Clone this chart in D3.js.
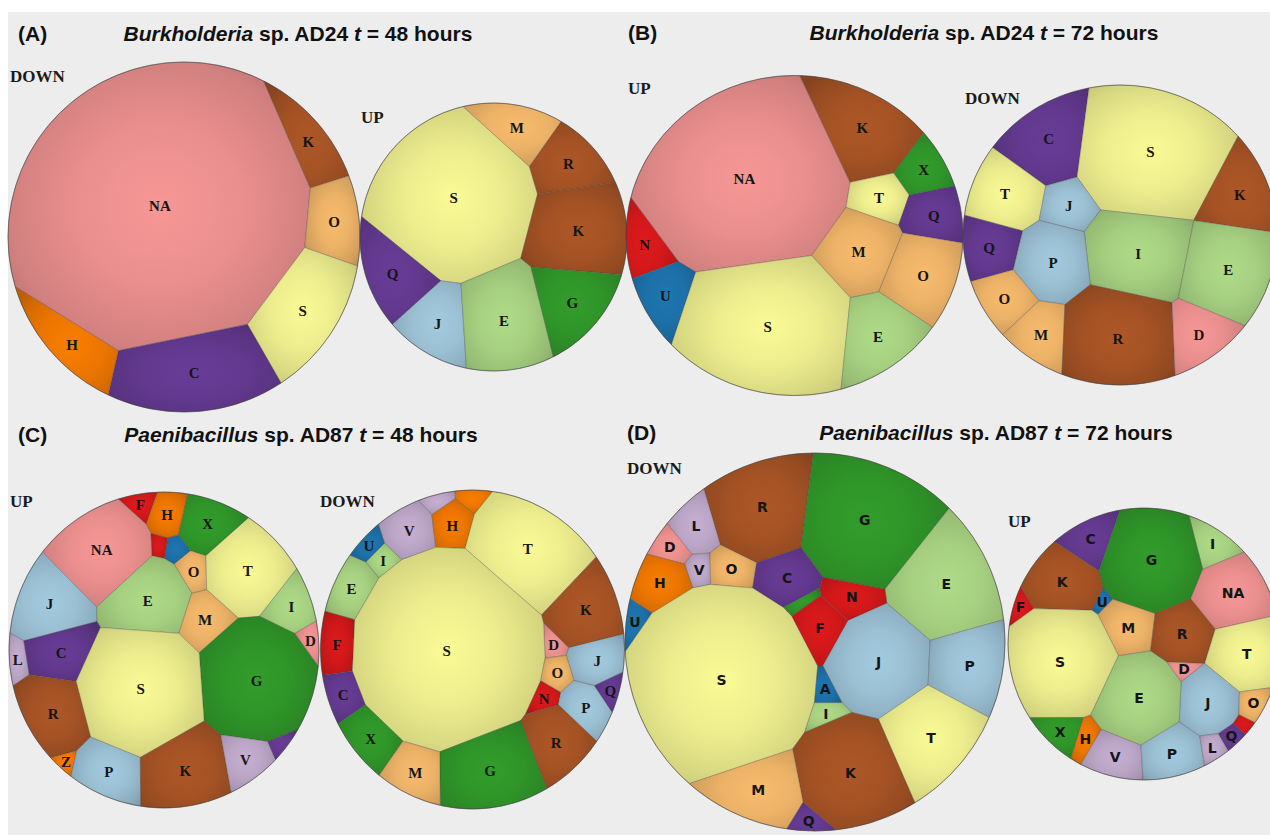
<!DOCTYPE html>
<html><head><meta charset="utf-8">
<script src="https://cdn.jsdelivr.net/npm/d3@7/dist/d3.min.js"></script>
<style>
html,body{margin:0;padding:0;background:#fff;}
svg{display:block;}
</style></head>
<body>
<svg id="chart" width="1270" height="835"></svg>
<script>
// ================= DATA =================
const panelTags   = ["(A)","(B)","(C)","(D)"];
const genusNames  = ["Burkholderia","Burkholderia","Paenibacillus","Paenibacillus"];
const strainNames = ["sp. AD24","sp. AD24","sp. AD87","sp. AD87"];
const timePoints  = ["48","72","48","72"];

// COG category shares (% of differentially expressed genes) per map
const catA1 = ["NA","K","O","S","C","H"];
const valA1 = [69,3.5,3.9,8.4,11,4.2];
const catA2 = ["S","M","R","K","Q","J","E","G"];
const valA2 = [37,5.5,6.5,14,7.5,7,14,8.5];
const catB1 = ["NA","K","X","T","Q","N","M","O","U","S","E"];
const valB1 = [36,8.5,2.5,2.6,3.2,2.6,6,6,3.4,23,6.2];
const catB2 = ["C","S","K","T","J","I","Q","P","E","O","M","R","D"];
const valB2 = [7.5,22,6,5.8,3,10.5,3.8,6.5,10,3.3,3.8,13,4.3];
const catC1 = ["F","H","X","NA","U","N","O","T","J","E","I","M","D","L","C","G","S","R","Z","P","K","V","Q"];
const valC1 = [0.8,1.8,3.3,8.8,0.6,0.4,1.2,7.5,5.8,6.4,2.5,2.7,0.7,1.1,3.8,14.8,16.5,5.6,0.45,4.2,7.5,2.5,0.45];
const catC2 = ["L","Z","V","H","T","U","I","E","K","F","D","S","J","O","C","Q","N","P","X","R","G","M"];
const valC2 = [0.6,0.6,2.9,2,11.8,0.8,0.8,2.6,5.6,2.4,0.6,38,2.8,1.1,1.8,0.7,0.8,2.4,3,4.6,8.7,3.3];
const catD1 = ["R","G","L","D","V","O","H","C","E","N","X","U","F","J","P","S","A","I","T","K","M","Q"];
const valD1 = [7.3,11.7,1.7,0.8,0.75,1.3,2,2.3,7.9,1.5,0.3,0.6,1.8,7.2,4.5,24,0.5,0.6,6.1,8.4,4.4,0.6];
const catD2 = ["C","I","G","K","NA","F","U","M","R","T","S","D","J","E","O","Q","N","X","H","V","P","L"];
const valD2 = [3.1,2.3,13.7,6.3,7,0.7,0.4,3.6,5,7,15.9,0.6,5.2,9.8,1.2,0.5,0.5,2,1.2,3.4,4.3,1];

// categories whose label is not printed (cells too small)
const hideA1 = [], hideA2 = [], hideB1 = [], hideB2 = [];
const hideC1 = ["U","N","Q"], hideC2 = ["L","Z"], hideD1 = ["X"], hideD2 = ["N"];

// ================= LAYOUT SEEDS (normalised sites for the power-diagram iteration) =================
const seedA1 = [[-0.14,-0.17],[0.71,-0.51],[0.84,-0.04],[0.63,0.47],[0.06,0.73],[-0.52,0.69]];
const seedA2 = [[-0.31,-0.29],[0.18,-0.74],[0.58,-0.56],[0.64,-0.01],[-0.72,0.32],[-0.42,0.67],[0.11,0.60],[0.61,0.58]];
const seedB1 = [[-0.32,-0.37],[0.44,-0.65],[0.77,-0.44],[0.50,-0.20],[0.84,-0.11],[-0.87,0.10],[0.35,0.14],[0.76,0.29],[-0.73,0.45],[-0.15,0.58],[0.50,0.65]];
const seedB2 = [[-0.45,-0.65],[0.24,-0.57],[0.76,-0.32],[-0.69,-0.28],[-0.29,-0.21],[0.14,0.11],[-0.82,0.13],[-0.41,0.20],[0.69,0.29],[-0.71,0.47],[-0.48,0.70],[0.03,0.65],[0.52,0.71]];
const seedC1 = [[-0.11,-0.91],[0.07,-0.86],[0.32,-0.79],[-0.39,-0.65],[0.06,-0.65],[-0.01,-0.58],[0.17,-0.49],[0.55,-0.52],[-0.72,-0.35],[-0.12,-0.32],[0.83,-0.29],[0.27,-0.21],[0.94,-0.01],[-0.92,0.01],[-0.61,-0.02],[0.62,0.18],[-0.10,0.27],[-0.67,0.42],[-0.60,0.73],[-0.34,0.77],[0.14,0.74],[0.52,0.72],[0.76,0.59]];
const seedC2 = [[-0.21,-0.94],[0.0,-0.94],[-0.43,-0.73],[-0.11,-0.77],[0.38,-0.63],[-0.68,-0.64],[-0.57,-0.49],[-0.77,-0.34],[0.76,-0.35],[-0.86,-0.02],[0.52,-0.04],[-0.12,0.0],[0.83,0.05],[0.56,0.17],[-0.84,0.29],[0.90,0.25],[0.46,0.33],[0.76,0.41],[-0.63,0.54],[0.56,0.64],[0.08,0.74],[-0.37,0.75]];
const seedD1 = [[-0.22,-0.70],[0.34,-0.59],[-0.58,-0.65],[-0.75,-0.52],[-0.56,-0.36],[-0.35,-0.36],[-0.78,-0.29],[-0.08,-0.28],[0.72,-0.31],[0.17,-0.16],[-0.03,-0.11],[-0.94,-0.05],[0.05,0.07],[0.38,0.11],[0.80,0.17],[-0.47,0.28],[0.08,0.30],[0.02,0.44],[0.64,0.53],[0.22,0.69],[-0.27,0.79],[-0.01,0.93]];
const seedD2 = [[-0.38,-0.80],[0.50,-0.75],[0.09,-0.62],[-0.57,-0.53],[0.66,-0.43],[-0.89,-0.31],[-0.29,-0.30],[-0.07,-0.09],[0.30,-0.09],[0.75,0.08],[-0.62,0.15],[0.15,0.14],[0.43,0.38],[-0.04,0.42],[0.78,0.47],[0.61,0.56],[0.71,0.62],[-0.63,0.67],[-0.43,0.73],[-0.15,0.83],[0.23,0.78],[0.51,0.74]];

// ================= STYLE =================
const cogDomain = ["J","P","U","A","E","I","G","X","NA","D","N","F","M","O","H","Z","L","V","C","Q","S","T","K","R"];
const cogRange  = ["#a6cee3","#a6cee3","#1f78b4","#1f78b4","#b2df8a","#b2df8a","#33a02c","#33a02c","#fb9a99","#fb9a99","#e31a1c","#e31a1c","#fdbf6f","#fdbf6f","#ff7f00","#ff7f00","#cab2d6","#cab2d6","#6a3d9a","#6a3d9a","#ffff99","#ffff99","#b15928","#b15928"];
const color = d3.scaleOrdinal().domain(cogDomain).range(cogRange);

const SERIF = "'Liberation Serif','Times New Roman',serif";
const SANS  = "'Liberation Sans',Arial,sans-serif";
const VSANS = "'DejaVu Sans',Verdana,sans-serif";

const maps = [
  {dir:"DOWN", cx:184,   cy:237,   rx:176,   ry:175,   cats:catA1, vals:valA1, seeds:seedA1, hide:hideA1, font:SERIF, lx:10,   ly:82},
  {dir:"UP",   cx:493.5, cy:237,   rx:133.5, ry:134,   cats:catA2, vals:valA2, seeds:seedA2, hide:hideA2, font:SERIF, lx:361,  ly:123},
  {dir:"UP",   cx:794.5, cy:235.5, rx:168.5, ry:160,   cats:catB1, vals:valB1, seeds:seedB1, hide:hideB1, font:SERIF, lx:628,  ly:94},
  {dir:"DOWN", cx:1120,  cy:235,   rx:157,   ry:150,   cats:catB2, vals:valB2, seeds:seedB2, hide:hideB2, font:SERIF, lx:965,  ly:104},
  {dir:"UP",   cx:164,   cy:650,   rx:155,   ry:158,   cats:catC1, vals:valC1, seeds:seedC1, hide:hideC1, font:SERIF, lx:10,   ly:507},
  {dir:"DOWN", cx:472.5, cy:649.5, rx:152,   ry:159.5, cats:catC2, vals:valC2, seeds:seedC2, hide:hideC2, font:SERIF, lx:320,  ly:507},
  {dir:"DOWN", cx:815,   cy:642,   rx:190,   ry:189,   cats:catD1, vals:valD1, seeds:seedD1, hide:hideD1, font:VSANS, lx:627,  ly:474},
  {dir:"UP",   cx:1144,  cy:644,   rx:136,   ry:136,   cats:catD2, vals:valD2, seeds:seedD2, hide:hideD2, font:VSANS, lx:1008, ly:527}
];
const titles = [
  {x:18,  y:41, cx:298, cy:41},
  {x:628, y:40, cx:984, cy:40},
  {x:18,  y:442, cx:301, cy:442},
  {x:627, y:440, cx:996, cy:440}
];

// ================= VORONOI TREEMAP (power diagram) =================
function clipHalf(poly, a, b, c) {
  const out = [], n = poly.length;
  for (let k = 0; k < n; k++) {
    const P = poly[k], Q = poly[(k + 1) % n];
    const fp = a * P[0] + b * P[1] - c, fq = a * Q[0] + b * Q[1] - c;
    if (fp <= 0) out.push(P);
    if ((fp < 0 && fq > 0) || (fp > 0 && fq < 0)) {
      const t = fp / (fp - fq);
      out.push([P[0] + t * (Q[0] - P[0]), P[1] + t * (Q[1] - P[1])]);
    }
  }
  return out;
}
function powerCells(S, w, base) {
  const n = S.length, cells = new Array(n);
  for (let i = 0; i < n; i++) {
    let poly = base;
    const xi = S[i][0], yi = S[i][1], si = xi * xi + yi * yi;
    for (let j = 0; j < n && poly.length > 2; j++) {
      if (j === i) continue;
      const xj = S[j][0], yj = S[j][1];
      poly = clipHalf(poly, 2 * (xj - xi), 2 * (yj - yi), (xj * xj + yj * yj) - si - w[j] + w[i]);
    }
    cells[i] = poly;
  }
  return cells;
}
function fixOverweight(S, w) {
  let guard = 0, fixed;
  do {
    fixed = false;
    for (let i = 0; i < S.length && !fixed; i++) {
      for (let j = i + 1; j < S.length; j++) {
        const hi = w[i] > w[j] ? i : j, lo = hi === i ? j : i;
        const dx = S[i][0] - S[j][0], dy = S[i][1] - S[j][1], d2 = dx * dx + dy * dy;
        if (d2 < w[hi] - w[lo]) { w[hi] = Math.max(d2 + w[lo] / 2, 1e-7); fixed = true; break; }
      }
    }
  } while (fixed && ++guard < 500);
}
function voronoiTreemap(vals, seeds) {
  const N = 160;
  const base = d3.range(N).map(k => [Math.cos(2 * Math.PI * k / N), Math.sin(2 * Math.PI * k / N)]);
  const A = Math.abs(d3.polygonArea(base));
  const tot = d3.sum(vals);
  const T = vals.map(v => v / tot * A);
  const S = seeds.map(p => [p[0], p[1]]);
  const w = T.map(t => t / Math.PI);
  fixOverweight(S, w);
  let cells = powerCells(S, w, base), err = 1;
  for (let it = 0; it < 500; it++) {
    const mv = it < 150 ? 0.08 : 0.02;
    for (let i = 0; i < S.length; i++) {
      if (cells[i].length > 2) {
        const c = d3.polygonCentroid(cells[i]);
        S[i][0] += (c[0] - S[i][0]) * mv;
        S[i][1] += (c[1] - S[i][1]) * mv;
      }
    }
    fixOverweight(S, w);
    cells = powerCells(S, w, base);
    err = 0;
    for (let i = 0; i < S.length; i++) {
      const a = cells[i].length > 2 ? Math.abs(d3.polygonArea(cells[i])) : 0;
      err += Math.abs(a - T[i]);
      let r = a > 0 ? T[i] / a : 1.5;
      r = Math.max(0.8, Math.min(1.25, r));
      w[i] = Math.max(w[i] * r, 1e-7);
    }
    fixOverweight(S, w);
    cells = powerCells(S, w, base);
    if (it > 80 && err / (2 * A) < 0.002) break;
  }
  return cells;
}

// ================= DRAW =================
const svg = d3.select("#chart");
const defs = svg.append("defs");
svg.append("rect").attr("x", 0).attr("y", 0).attr("width", 1270).attr("height", 835).attr("fill", "#ffffff");
svg.append("rect").attr("x", 8).attr("y", 12).attr("width", 1262).attr("height", 823).attr("fill", "#ededed");

maps.forEach((m, mi) => {
  const cells = voronoiTreemap(m.vals, m.seeds);
  const xs = d3.scaleLinear().domain([-1, 1]).range([m.cx - m.rx, m.cx + m.rx]);
  const ys = d3.scaleLinear().domain([-1, 1]).range([m.cy - m.ry, m.cy + m.ry]);
  const g = svg.append("g");
  const labels = [];
  cells.forEach((poly, i) => {
    if (poly.length < 3) return;
    const pts = poly.map(p => [xs(p[0]), ys(p[1])]);
    const cen = d3.polygonCentroid(pts);
    const x0 = d3.min(pts, p => p[0]), x1 = d3.max(pts, p => p[0]);
    const y0 = d3.min(pts, p => p[1]), y1 = d3.max(pts, p => p[1]);
    const fx = (cen[0] - x0) / Math.max(1e-6, x1 - x0), fy = (cen[1] - y0) / Math.max(1e-6, y1 - y0);
    const base = d3.color(color(m.cats[i]));
    const id = "grad" + mi + "_" + i;
    const grad = defs.append("radialGradient").attr("id", id)
      .attr("cx", fx).attr("cy", fy).attr("fx", fx).attr("fy", fy)
      .attr("r", 0.6 + Math.max(Math.abs(fx - 0.5), Math.abs(fy - 0.5)));
    [[0, 0.05], [0.45, 0.2], [0.82, 0.5], [1, 0.8]].forEach(s => {
      grad.append("stop").attr("offset", s[0]).attr("stop-color", base.darker(s[1]).formatHex());
    });
    g.append("path")
      .attr("d", "M" + pts.map(p => p[0].toFixed(2) + "," + p[1].toFixed(2)).join("L") + "Z")
      .attr("fill", "url(#" + id + ")")
      .attr("stroke", "rgba(60,60,60,0.35)")
      .attr("stroke-width", 0.8)
      .attr("stroke-linejoin", "round");
    if (m.hide.indexOf(m.cats[i]) < 0) labels.push({t: m.cats[i], x: cen[0], y: cen[1]});
  });
  g.append("ellipse").attr("cx", m.cx).attr("cy", m.cy).attr("rx", m.rx).attr("ry", m.ry)
    .attr("fill", "none").attr("stroke", "rgba(70,70,70,0.55)").attr("stroke-width", 1);
  g.selectAll("text.lab").data(labels).enter().append("text")
    .attr("class", "lab")
    .attr("x", d => d.x).attr("y", d => d.y).attr("dy", "0.36em")
    .attr("text-anchor", "middle")
    .attr("font-family", m.font).attr("font-weight", "bold")
    .attr("font-size", m.font === VSANS ? 14 : 15)
    .attr("fill", "#151515")
    .text(d => d.t);
  svg.append("text").attr("x", m.lx).attr("y", m.ly)
    .attr("font-family", SERIF).attr("font-weight", "bold").attr("font-size", 17)
    .attr("fill", "#1a1a1a").text(m.dir);
});

titles.forEach((t, i) => {
  svg.append("text").attr("x", t.x).attr("y", t.y)
    .attr("font-family", SANS).attr("font-weight", "bold").attr("font-size", 21)
    .attr("fill", "#111").text(panelTags[i]);
  const tt = svg.append("text").attr("x", t.cx).attr("y", t.cy).attr("text-anchor", "middle")
    .attr("font-family", SANS).attr("font-weight", "bold").attr("font-size", 21).attr("fill", "#111");
  tt.append("tspan").attr("font-style", "italic").text(genusNames[i]);
  tt.append("tspan").text(" " + strainNames[i] + " ");
  tt.append("tspan").attr("font-style", "italic").text("t");
  tt.append("tspan").text(" = " + timePoints[i] + " hours");
});
</script>
</body></html>
